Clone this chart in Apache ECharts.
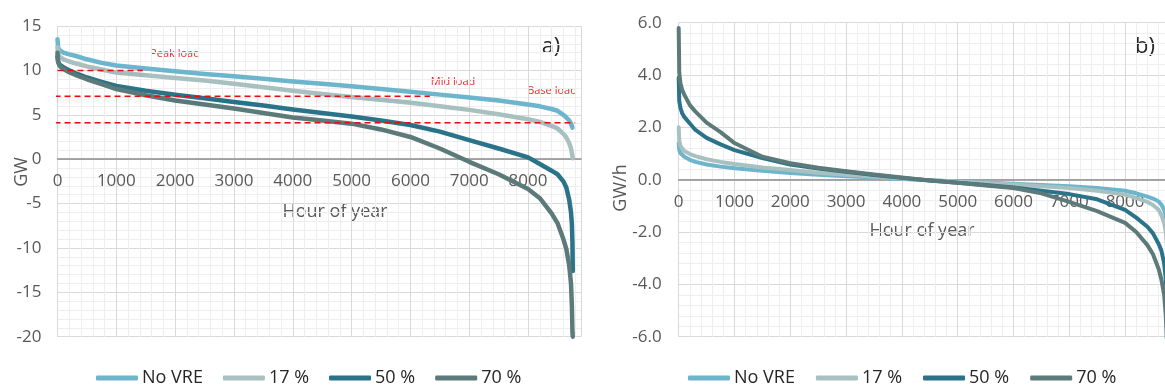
<!DOCTYPE html>
<html>
<head>
<meta charset="utf-8">
<script src="https://cdn.jsdelivr.net/npm/echarts@6/dist/echarts.min.js"></script>
<style>html,body{margin:0;padding:0;background:#fff;overflow:hidden}#c{width:1176px;height:390px}</style>
</head>
<body>
<div id="c"></div>
<script>
// ---------- data ----------
const seriesNames = ['No VRE', '17 %', '50 %', '70 %'];
const hours = [0,10,30,60,100,200,300,500,750,1000,1500,2000,2500,3000,3500,4000,4500,5000,5500,6000,6500,7000,7500,8000,8200,8400,8500,8600,8650,8700,8730,8745,8755,8760];

// a) residual load duration curves (GW)
const loadNoVRE = [13.5,12.6,12.3,12.1,12.0,11.8,11.65,11.25,10.85,10.55,10.2,9.9,9.6,9.35,9.05,8.75,8.5,8.2,7.9,7.6,7.27,6.94,6.6,6.15,5.95,5.65,5.45,5.0,4.7,4.35,4.0,3.75,3.55,3.5];
const load17    = [12.6,11.9,11.6,11.4,11.25,11.0,10.8,10.45,10.1,9.75,9.45,9.15,8.85,8.5,8.1,7.7,7.35,7.0,6.7,6.35,5.95,5.55,5.05,4.5,4.2,3.75,3.45,2.85,2.45,1.8,1.2,0.7,0.35,0.1];
const load50    = [11.6,11.0,10.7,10.5,10.35,10.0,9.7,9.2,8.7,8.25,7.7,7.25,6.85,6.45,6.05,5.6,5.2,4.8,4.35,3.85,3.1,2.15,1.2,0.2,-0.55,-1.3,-1.7,-2.5,-3.2,-4.6,-6.0,-7.3,-9.5,-12.6];
const load70    = [12.0,11.0,10.6,10.35,10.15,9.8,9.5,9.0,8.45,7.9,7.2,6.6,6.15,5.7,5.2,4.7,4.35,4.0,3.35,2.5,1.2,-0.3,-1.7,-3.35,-4.4,-6.1,-7.2,-9.0,-10.1,-12.0,-14.0,-16.5,-19.5,-20.0];

// b) ramp duration curves (GW/h)
const rampNoVRE = [1.4,1.15,1.02,0.95,0.88,0.76,0.68,0.58,0.5,0.44,0.34,0.26,0.19,0.13,0.08,0.03,-0.02,-0.07,-0.11,-0.15,-0.2,-0.25,-0.32,-0.42,-0.52,-0.65,-0.72,-0.83,-0.95,-1.15,-1.4,-1.7,-2.1,-2.5];
const ramp17    = [2.0,1.5,1.3,1.2,1.1,0.98,0.9,0.78,0.68,0.6,0.47,0.37,0.27,0.19,0.12,0.05,-0.02,-0.08,-0.13,-0.18,-0.25,-0.32,-0.42,-0.57,-0.7,-0.85,-0.97,-1.15,-1.35,-1.65,-2.0,-2.4,-2.9,-3.3];
const ramp50    = [3.9,3.0,2.75,2.55,2.4,2.15,1.9,1.6,1.35,1.13,0.83,0.58,0.43,0.3,0.18,0.07,-0.03,-0.12,-0.2,-0.3,-0.42,-0.55,-0.75,-1.15,-1.45,-1.8,-2.05,-2.45,-2.7,-3.2,-3.8,-4.4,-5.2,-6.0];
const ramp70    = [5.8,4.1,3.7,3.45,3.25,2.85,2.6,2.18,1.82,1.4,0.88,0.63,0.46,0.32,0.2,0.08,-0.03,-0.12,-0.22,-0.32,-0.52,-0.85,-1.2,-1.65,-2.0,-2.5,-2.85,-3.4,-3.8,-4.4,-5.2,-6.0,-7.0,-7.5];

// load levels (GW) and their horizontal extents (hours)
const levelNames = ['Peak load', 'Mid load', 'Base load'];
const levelValues = [10, 7.1, 4.1];
const levelFrom = [0, -50, -50];
const levelTo = [1450, 6330, 8800];

// ---------- styling ----------
const colors = ['#6cb5cd', '#a9c0c1', '#2a7388', '#5c7a79'];
const FONT = 'Open Sans';
const zip = (xs, ys) => xs.map((x, i) => [x, ys[i]]);

function xAxis(gi, offset) {
  return {
    type: 'value', gridIndex: gi, min: 0, max: 8900, interval: 1000, offset,
    axisLine: { onZero: false, lineStyle: { color: '#8c8c8c', width: 1.5 } },
    axisTick: { show: false },
    axisLabel: { color: '#595959', fontSize: 17, fontFamily: FONT, margin: 14, showMaxLabel: false,
      formatter: v => (v % 1000 === 0 ? String(v) : '') },
    splitLine: { show: true, lineStyle: { color: '#d9d9d9', width: 1 } },
    minorTick: { show: false, splitNumber: 5 },
    minorSplitLine: { show: true, lineStyle: { color: '#eeeeee', width: 1 } }
  };
}
function yAxis(gi, min, max, interval, fmt, margin) {
  return {
    type: 'value', gridIndex: gi, min, max, interval,
    axisLine: { show: false }, axisTick: { show: false },
    axisLabel: { color: '#595959', fontSize: 17, fontFamily: FONT, margin, formatter: fmt },
    splitLine: { show: true, lineStyle: { color: '#d9d9d9', width: 1 } },
    minorTick: { show: false, splitNumber: 5 },
    minorSplitLine: { show: true, lineStyle: { color: '#eeeeee', width: 1 } }
  };
}

const loadData = [loadNoVRE, load17, load50, load70];
const rampData = [rampNoVRE, ramp17, ramp50, ramp70];

const series = [];
loadData.forEach((d, i) => series.push({
  name: seriesNames[i], type: 'line', xAxisIndex: 0, yAxisIndex: 0,
  data: zip(hours, d), showSymbol: false, symbol: 'none', smooth: false,
  lineStyle: { color: colors[i], width: 4.5, cap: 'round', join: 'round' }, itemStyle: { color: colors[i] },
  z: 3 + i
}));
levelValues.forEach((v, i) => series.push({
  name: levelNames[i], type: 'line', xAxisIndex: 0, yAxisIndex: 0, clip: false,
  data: [[levelFrom[i], v], [levelTo[i], v]], showSymbol: false, symbol: 'none', silent: true,
  lineStyle: { color: '#e01010', width: 1.5, type: [6, 4],
    shadowColor: 'rgba(0,0,0,0.18)', shadowBlur: 4, shadowOffsetY: 4 },
  z: 10
}));
rampData.forEach((d, i) => series.push({
  name: seriesNames[i], type: 'line', xAxisIndex: 1, yAxisIndex: 1,
  data: zip(hours, d), showSymbol: false, symbol: 'none', smooth: false,
  lineStyle: { color: colors[i], width: 4, cap: 'round', join: 'round' }, itemStyle: { color: colors[i] },
  z: 3 + i
}));

function legend(left, gap) {
  return {
    data: seriesNames, left, top: 362, orient: 'horizontal', itemGap: gap,
    itemWidth: 42, itemHeight: 5, icon: 'roundRect', selectedMode: false,
    textStyle: { color: '#262626', fontSize: 18, fontFamily: FONT, lineHeight: 22, padding: [0, 0, 0, -1] }
  };
}

function txt(x, y, text, size, color, rot) {
  return { type: 'text', x, y, rotation: rot || 0, silent: true,
    style: { text, fontSize: size, fontFamily: FONT, fill: color, align: 'center', verticalAlign: 'middle' } };
}

const option = {
  animation: false,
  backgroundColor: '#ffffff',
  grid: [
    { left: 57.5, top: 26, width: 523.5, height: 310.7 },
    { left: 678.7, top: 22.7, width: 496.6, height: 314 }
  ],
  xAxis: [xAxis(0, -178), xAxis(1, -156.7)],
  yAxis: [
    yAxis(0, -20, 15, 5, v => String(v), 16),
    yAxis(1, -6, 6, 2, v => v.toFixed(1), 17)
  ],
  legend: [legend(91, 20), legend(683, 21)],
  series,
  graphic: [
    txt(22, 172, 'GW', 18, '#595959', Math.PI / 2),
    txt(621, 188, 'GW/h', 18, '#595959', Math.PI / 2),
    txt(335, 212, 'Hour of year', 18, '#595959'),
    txt(922, 231, 'Hour of year', 18, '#595959'),
    txt(551, 47, 'a)', 22, '#262626'),
    txt(1145, 47, 'b)', 22, '#262626'),
    txt(175, 54, 'Peak load', 11, '#e0302f'),
    txt(453, 82, 'Mid load', 11, '#e0302f'),
    txt(552, 91, 'Base load', 11, '#e0302f')
  ]
};

const chart = echarts.init(document.getElementById('c'), null, { renderer: 'canvas' });
chart.setOption(option);
</script>
</body>
</html>
